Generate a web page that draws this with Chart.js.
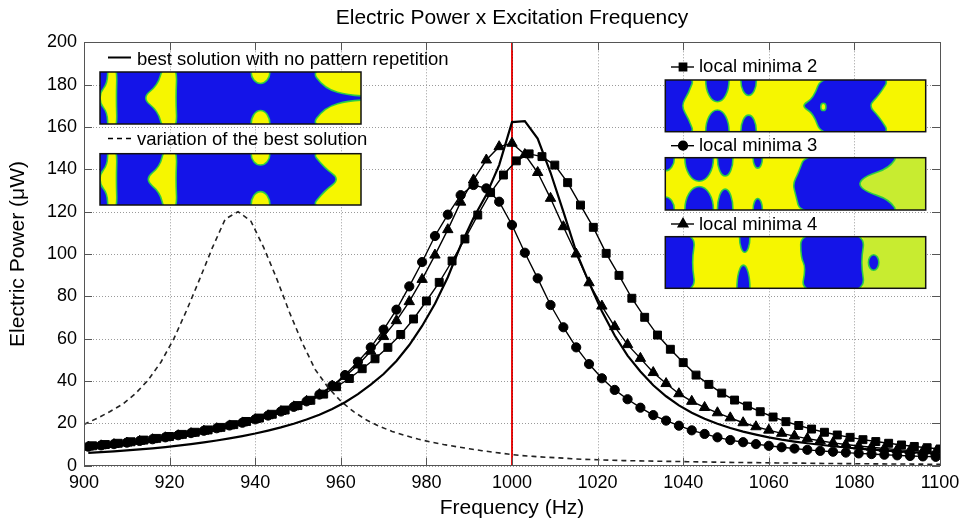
<!DOCTYPE html>
<html><head><meta charset="utf-8">
<script src="https://cdn.jsdelivr.net/npm/chart.js@4.4.0/dist/chart.umd.min.js"></script>
<style>html,body{margin:0;padding:0;background:#fff;}#wrap{width:961px;height:519px;}</style>
</head><body><div id="wrap"><canvas id="c" width="961" height="519"></canvas></div>
<script>
// ---- data ----
const freqA = [901,904,907,910,913,916,919,922,925,928,931,934,937,940,943,946,949,952,955,958,961,964,967,970,973,976,979,982,985,988,991,994,997,1000,1003,1006,1009,1012,1015,1018,1021,1024,1027,1030,1033,1036,1039,1042,1045,1048,1051,1054,1057,1060,1063,1066,1069,1072,1075,1078,1081,1084,1087,1090,1093,1096,1099];
const freqB = [902,905,908,911,914,917,920,923,926,929,932,935,938,941,944,947,950,953,956,959,962,965,968,971,974,977,980,983,986,989,992,995,998,1001,1004,1007,1010,1013,1016,1019,1022,1025,1028,1031,1034,1037,1040,1043,1046,1049,1052,1055,1058,1061,1064,1067,1070,1073,1076,1079,1082,1085,1088,1091,1094,1097,1100];
const freqDash = [900,903,906,909,912,915,918,921,924,927,930,933,936,939,942,945,948,951,954,957,960,963,966,969,972,975,978,981,984,987,990,993,996,999,1002,1005,1008,1011,1014,1017,1020,1023,1026,1029,1032,1035,1038,1041,1044,1047,1050,1053,1056,1059,1062,1065,1068,1071,1074,1077,1080,1083,1086,1089,1092,1095,1098,1100];

const bestSolution = [6.1,6.4,6.8,7.2,7.7,8.2,8.8,9.5,10.2,11.0,11.9,12.9,14.0,15.2,16.6,18.1,19.8,21.8,24.1,26.8,30.0,33.8,38.3,43.3,49.5,57.0,66.0,76.5,89.0,104.0,117.0,128.0,142.0,162.3,162.8,154.5,138.5,120.0,101.0,86.5,73.0,61.5,52.0,44.5,38.0,32.8,28.5,25.0,22.2,19.8,17.8,16.1,14.7,13.4,12.3,11.4,10.6,9.9,9.2,8.6,8.1,7.6,7.2,6.8,6.4,6.1,5.8];
const variationBest = [19.5,22.3,25.5,29.0,34.0,40.5,49.0,60.0,73.5,88.0,103.0,116.5,120.0,115.5,103.0,88.5,72.5,58.0,45.5,37.0,30.5,25.5,21.6,18.6,16.2,14.3,12.6,11.2,10.0,9.0,8.0,7.1,6.3,5.5,4.8,4.4,4.0,3.7,3.3,3.0,2.8,2.6,2.4,2.3,2.2,2.1,2.0,1.9,1.8,1.7,1.6,1.5,1.45,1.4,1.3,1.25,1.2,1.1,1.05,1.0,0.95,0.9,0.85,0.8,0.8,0.75,0.7,0.7];
const localMin2 = [9.4,10.0,10.6,11.3,12.1,12.9,13.8,14.8,15.8,16.9,18.1,19.4,20.9,22.5,24.3,26.3,28.4,30.9,33.8,37.3,41.2,45.8,50.5,55.9,62.0,69.3,77.8,86.6,96.7,107.1,118.4,129.0,137.3,144.0,147.3,146.0,142.0,133.7,123.1,112.6,100.3,89.9,79.1,70.1,61.7,55.0,48.7,42.8,38.4,34.3,31.0,28.2,25.5,23.0,20.8,19.0,17.3,15.8,14.5,13.4,12.3,11.4,10.6,9.8,9.1,8.5,7.9];
const localMin3 = [9.0,9.6,10.2,10.9,11.7,12.5,13.4,14.4,15.4,16.5,17.7,19.0,20.3,21.9,23.7,25.6,27.8,30.4,33.6,37.8,42.8,49.1,55.9,64.3,73.7,84.7,96.2,108.5,118.6,127.8,132.6,131.0,124.7,113.7,100.6,88.5,75.9,65.4,55.9,48.0,41.3,35.8,31.4,27.4,23.9,21.3,18.9,16.7,15.0,13.4,12.1,11.1,10.2,9.4,8.7,8.1,7.5,7.0,6.6,6.2,5.8,5.5,5.2,4.9,4.6,4.4,4.2];
const localMin4 = [8.8,9.4,10.0,10.7,11.5,12.3,13.2,14.2,15.2,16.3,17.5,18.8,20.2,21.8,23.6,25.6,27.8,30.4,33.6,37.6,42.2,47.6,54.1,61.0,68.5,77.5,88.0,99.5,111.5,124.5,135.0,144.4,150.7,152.3,147.0,138.5,126.3,112.9,100.0,86.4,75.4,65.7,57.2,50.7,44.0,38.8,34.0,30.4,27.5,25.0,22.6,20.3,18.4,16.8,15.3,14.0,12.8,11.8,10.8,10.0,9.3,8.7,8.1,7.6,7.2,6.8,6.4];
const resonanceFreq = 1000;
const xTicks = [900,920,940,960,980,1000,1020,1040,1060,1080,1100];
const yTicks = [0,20,40,60,80,100,120,140,160,180,200];
const titleText = 'Electric Power x Excitation Frequency';
const labels = ['best solution with no pattern repetition','variation of the best solution','local minima 2','local minima 3','local minima 4'];

const pts = (xs, ys) => xs.map((x, i) => ({x, y: ys[i]}));
const FONT = "'Liberation Sans', Arial, Helvetica, sans-serif";

// ---- decorative inset pictures (topology patterns) ----
const BLUE = '#1414e8', YEL = '#f6f600', LGY = '#c8ec30', EDGE = 'rgba(40,205,70,0.95)';
const insets = [
  {x:100,y:72,w:261,h:52,bg:BLUE,shapes:[
    {c:YEL,p:[[0.03,-0.1],[0.066,-0.1],[0.062,0.5],[0.066,1.1],[0.03,1.1],[0.028,0.78],[0.0,0.6],[0.0,0.4],[0.028,0.22]]},
    {c:YEL,p:[[0.24,-0.1],[0.296,-0.1],[0.29,0.5],[0.296,1.1],[0.24,1.1],[0.222,0.75],[0.16,0.5],[0.222,0.25]]},
    {c:YEL,e:[0.615,0.0,0.036,0.22]},{c:YEL,e:[0.615,1.0,0.036,0.26]},
    {c:YEL,p:[[0.8,-0.1],[1.1,-0.1],[1.1,0.47],[0.96,0.46],[0.86,0.32]]},
    {c:YEL,p:[[0.8,1.1],[1.1,1.1],[1.1,0.53],[0.96,0.54],[0.86,0.68]]}
  ]},
  {x:100,y:153.7,w:261,h:51.3,bg:BLUE,shapes:[
    {c:YEL,p:[[0.03,-0.1],[0.066,-0.1],[0.062,0.5],[0.066,1.1],[0.03,1.1],[0.028,0.78],[0.0,0.6],[0.0,0.4],[0.028,0.22]]},
    {c:YEL,p:[[0.245,-0.1],[0.296,-0.1],[0.29,0.5],[0.296,1.1],[0.245,1.1],[0.23,0.75],[0.17,0.5],[0.23,0.25]]},
    {c:YEL,e:[0.615,0.0,0.036,0.22]},{c:YEL,e:[0.615,1.0,0.036,0.26]},
    {c:YEL,p:[[0.8,-0.1],[1.1,-0.1],[1.1,1.1],[0.8,1.1],[0.86,0.72],[0.92,0.5],[0.86,0.28]]}
  ]},
  {x:665.3,y:80,w:260.4,h:51.7,bg:YEL,shapes:[
    {c:BLUE,p:[[-0.1,-0.1],[0.115,-0.1],[0.09,0.25],[0.06,0.5],[0.09,0.75],[0.115,1.1],[-0.1,1.1]]},
    {c:BLUE,e:[0.2,0.0,0.045,0.42]},{c:BLUE,e:[0.2,1.0,0.045,0.42]},
    {c:BLUE,e:[0.32,0.0,0.03,0.3]},{c:BLUE,e:[0.32,1.0,0.03,0.32]},
    {c:BLUE,p:[[0.6,-0.1],[0.87,-0.1],[0.82,0.3],[0.78,0.5],[0.82,0.7],[0.87,1.1],[0.6,1.1],[0.57,0.65],[0.52,0.5],[0.57,0.35]]},
    {c:YEL,e:[0.607,0.52,0.01,0.07]}
  ]},
  {x:665.3,y:157.7,w:260.4,h:52.3,bg:YEL,shapes:[
    {c:LGY,noStroke:true,p:[[0.74,-0.1],[1.1,-0.1],[1.1,1.1],[0.74,1.1]],sharp:true},
    {c:BLUE,e:[0.0,0.0,0.035,0.25]},{c:BLUE,e:[0.0,1.0,0.035,0.25]},
    {c:BLUE,e:[0.13,0.0,0.055,0.45]},{c:BLUE,e:[0.13,1.0,0.055,0.45]},
    {c:BLUE,e:[0.23,0.0,0.03,0.35]},{c:BLUE,e:[0.23,1.0,0.03,0.4]},
    {c:BLUE,e:[0.355,0.0,0.018,0.2]},{c:BLUE,e:[0.355,1.0,0.018,0.22]},
    {c:BLUE,p:[[0.54,-0.1],[0.9,-0.1],[0.86,0.2],[0.77,0.35],[0.74,0.5],[0.77,0.65],[0.86,0.8],[0.9,1.1],[0.52,1.1],[0.5,0.7],[0.49,0.5],[0.51,0.3]]}
  ]},
  {x:665.3,y:236.7,w:260.4,h:51.6,bg:YEL,shapes:[
    {c:LGY,noStroke:true,p:[[0.76,-0.1],[1.1,-0.1],[1.1,1.1],[0.76,1.1]],sharp:true},
    {c:BLUE,p:[[-0.1,-0.1],[0.12,-0.1],[0.1,0.5],[0.12,1.1],[-0.1,1.1]]},
    {c:BLUE,e:[0.305,0.0,0.02,0.3]},{c:BLUE,e:[0.3,1.0,0.025,0.45]},
    {c:BLUE,p:[[0.52,-0.1],[0.77,-0.1],[0.75,0.5],[0.77,1.1],[0.52,1.1],[0.54,0.6],[0.52,0.4]]},
    {c:BLUE,e:[0.8,0.5,0.02,0.15]}
  ]}
];

function drawInset(ctx, r) {
  ctx.save();
  ctx.beginPath(); ctx.rect(r.x, r.y, r.w, r.h); ctx.clip();
  ctx.fillStyle = r.bg; ctx.fillRect(r.x, r.y, r.w, r.h);
  r.shapes.forEach(s => {
    ctx.beginPath();
    if (s.e) {
      ctx.ellipse(r.x + s.e[0]*r.w, r.y + s.e[1]*r.h, s.e[2]*r.w, s.e[3]*r.h, 0, 0, Math.PI*2);
    } else if (s.sharp) {
      s.p.forEach((q, i) => { const X = r.x + q[0]*r.w, Y = r.y + q[1]*r.h; i ? ctx.lineTo(X, Y) : ctx.moveTo(X, Y); });
      ctx.closePath();
    } else {
      const P = s.p.map(q => [r.x + q[0]*r.w, r.y + q[1]*r.h]);
      const n = P.length;
      const mid = (a, b) => [(a[0]+b[0])/2, (a[1]+b[1])/2];
      let m = mid(P[n-1], P[0]);
      ctx.moveTo(m[0], m[1]);
      for (let i = 0; i < n; i++) {
        const nx = mid(P[i], P[(i+1)%n]);
        ctx.quadraticCurveTo(P[i][0], P[i][1], nx[0], nx[1]);
      }
      ctx.closePath();
    }
    ctx.fillStyle = s.c; ctx.fill();
    if (!s.noStroke) { ctx.strokeStyle = EDGE; ctx.lineWidth = 1.6; ctx.stroke(); }
  });
  ctx.restore();
  ctx.save();
  ctx.strokeStyle = '#111'; ctx.lineWidth = 1.5;
  ctx.strokeRect(r.x, r.y, r.w, r.h);
  ctx.restore();
}

function drawMarker(ctx, style, x, y, r) {
  Chart.helpers.drawPoint(ctx, {pointStyle: style, radius: r, rotation: 0, borderWidth: 1}, x, y);
  ctx.fill();
}

const framePlugin = {
  id: 'frame',
  beforeDatasetsDraw(chart) {
    const {ctx, chartArea: a, scales} = chart;
    ctx.save();
    ctx.strokeStyle = '#9a9a9a'; ctx.lineWidth = 1; ctx.setLineDash([1, 2]);
    ctx.beginPath();
    xTicks.forEach(v => {
      const X = Math.round(scales.x.getPixelForValue(v)) + 0.5;
      ctx.moveTo(X, a.top); ctx.lineTo(X, a.bottom);
    });
    yTicks.forEach(v => {
      const Y = Math.round(scales.y.getPixelForValue(v)) + 0.5;
      ctx.moveTo(a.left, Y); ctx.lineTo(a.right, Y);
    });
    ctx.stroke();
    ctx.restore();
  },
  afterDatasetsDraw(chart) {
    const {ctx, chartArea: a, scales} = chart;
    ctx.save();
    ctx.strokeStyle = 'rgba(40,0,0,0.4)'; ctx.lineWidth = 1; ctx.setLineDash([1, 2]);
    const RX = Math.round(scales.x.getPixelForValue(resonanceFreq)) + 0.5;
    ctx.beginPath(); ctx.moveTo(RX, a.top); ctx.lineTo(RX, a.bottom); ctx.stroke();
    ctx.setLineDash([]);
    ctx.strokeStyle = '#555'; ctx.lineWidth = 1;
    ctx.strokeRect(Math.round(a.left)+0.5, Math.round(a.top)+0.5, Math.round(a.right-a.left), Math.round(a.bottom-a.top));
    ctx.beginPath();
    xTicks.forEach(v => {
      const X = Math.round(scales.x.getPixelForValue(v)) + 0.5;
      ctx.moveTo(X, a.bottom); ctx.lineTo(X, a.bottom - 8);
      ctx.moveTo(X, a.top); ctx.lineTo(X, a.top + 8);
    });
    yTicks.forEach(v => {
      const Y = Math.round(scales.y.getPixelForValue(v)) + 0.5;
      ctx.moveTo(a.left, Y); ctx.lineTo(a.left + 8, Y);
      ctx.moveTo(a.right, Y); ctx.lineTo(a.right - 8, Y);
    });
    ctx.stroke();
    ctx.restore();
  },
  afterDraw(chart) {
    const {ctx, chartArea: a} = chart;
    ctx.save();
    ctx.fillStyle = '#000';
    ctx.font = '21px ' + FONT;
    ctx.textAlign = 'center'; ctx.textBaseline = 'middle';
    ctx.fillText(titleText, (a.left + a.right) / 2, 18.5);
    ctx.restore();
    insets.forEach(r => drawInset(ctx, r));
    ctx.save();
    ctx.fillStyle = '#000'; ctx.strokeStyle = '#000';
    ctx.font = '18.5px ' + FONT;
    ctx.textBaseline = 'alphabetic';
    ctx.lineWidth = 2; ctx.beginPath(); ctx.moveTo(108, 57.5); ctx.lineTo(131, 57.5); ctx.stroke();
    ctx.fillText(labels[0], 137, 64.5);
    ctx.lineWidth = 1.6; ctx.setLineDash([5, 4]); ctx.beginPath(); ctx.moveTo(108, 138.5); ctx.lineTo(133, 138.5); ctx.stroke();
    ctx.setLineDash([]);
    ctx.fillText(labels[1], 137, 145);
    const rl = [[67, 71.7, 'rect', 5.2, labels[2]], [145.7, 150.5, 'circle', 4.4, labels[3]], [224, 229.5, 'triangle', 5.6, labels[4]]];
    rl.forEach(([ly, by, st, rad, txt]) => {
      ctx.lineWidth = 1.4; ctx.beginPath(); ctx.moveTo(671, ly); ctx.lineTo(694, ly); ctx.stroke();
      drawMarker(ctx, st, 683, ly, rad);
      ctx.fillText(txt, 699, by);
    });
    ctx.restore();
  }
};

const markerLine = {borderColor: '#000', backgroundColor: '#000', borderWidth: 1.4, pointBorderWidth: 1, pointBackgroundColor: '#000', pointBorderColor: '#000'};

new Chart(document.getElementById('c'), {
  type: 'line',
  data: {
    datasets: [
      {label: labels[0], data: pts(freqA, bestSolution), borderColor: '#000', borderWidth: 2.2, pointRadius: 0, order: 1},
      {label: labels[1], data: pts(freqDash, variationBest), borderColor: '#222', borderWidth: 1.6, borderDash: [5, 4], pointRadius: 0, order: 2},
      Object.assign({label: labels[2], data: pts(freqB, localMin2), pointStyle: 'rect', pointRadius: 5.6, order: 3}, markerLine),
      Object.assign({label: labels[3], data: pts(freqA, localMin3), pointStyle: 'circle', pointRadius: 4.6, order: 4}, markerLine),
      Object.assign({label: labels[4], data: pts(freqA, localMin4), pointStyle: 'triangle', pointRadius: 6, order: 5}, markerLine),
      {label: 'resonance', data: [{x: resonanceFreq, y: 0}, {x: resonanceFreq, y: 200}], borderColor: '#ee1010', borderWidth: 2, pointRadius: 0, order: 10}
    ]
  },
  options: {
    responsive: false, animation: false, devicePixelRatio: 1,
    layout: {padding: {left: 0, right: 21, top: 42.3, bottom: 0}},
    elements: {line: {tension: 0, fill: false}},
    plugins: {legend: {display: false}, tooltip: {enabled: false}, title: {display: false}},
    scales: {
      x: {type: 'linear', min: 900, max: 1100,
        afterFit: s => { s.height = 53.3; s.paddingLeft = 0; s.paddingRight = 0; },
        afterBuildTicks: s => { s.ticks = xTicks.map(v => ({value: v})); },
        ticks: {color: '#000', font: {family: FONT, size: 18}, padding: 7, maxRotation: 0, autoSkip: false, callback: v => String(v)},
        grid: {display: false, drawTicks: false},
        border: {display: false},
        title: {display: true, text: 'Frequency (Hz)', color: '#000', font: {family: FONT, size: 21}, padding: {top: 0, bottom: -2}}
      },
      y: {type: 'linear', min: 0, max: 200,
        afterFit: s => { s.width = 84; s.paddingTop = 0; s.paddingBottom = 0; },
        afterBuildTicks: s => { s.ticks = yTicks.map(v => ({value: v})); },
        ticks: {color: '#000', font: {family: FONT, size: 18}, padding: 7, callback: v => String(v)},
        grid: {display: false, drawTicks: false},
        border: {display: false},
        title: {display: true, text: 'Electric Power (\u03bcW)', color: '#000', font: {family: FONT, size: 21}, padding: {top: 6, bottom: 0}}
      }
    }
  },
  plugins: [framePlugin]
});
</script></body></html>
